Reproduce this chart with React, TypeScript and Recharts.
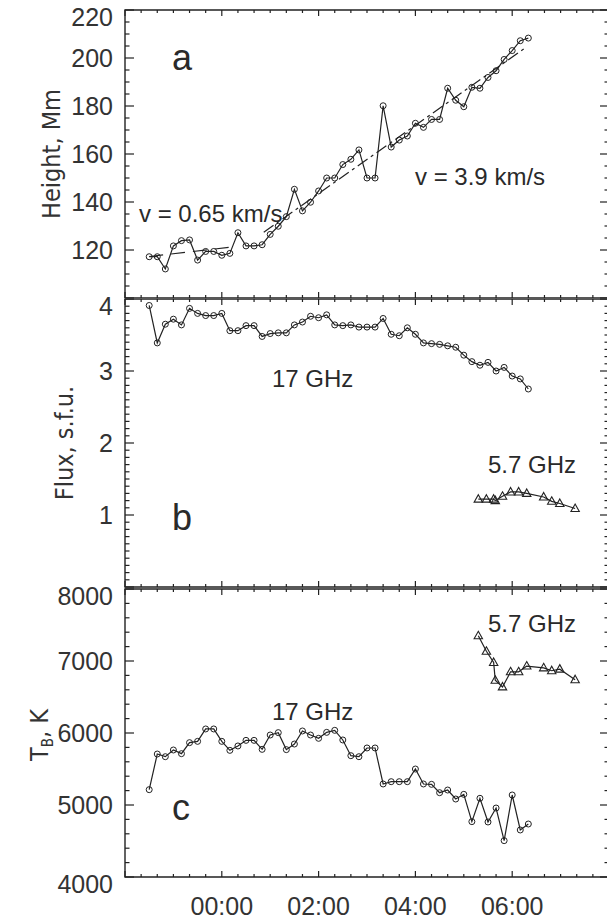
import React from 'react'
import { LineChart, Line, XAxis, YAxis, ReferenceArea } from 'recharts'

// time in minutes from 00:00 UT
const times17 = [
  -90, -80, -70, -60, -50, -40, -30, -20, -10, 0, 10, 20, 30, 40, 50, 60, 70, 80, 90, 100, 110, 120, 130, 140,
  150, 160, 170, 180, 190, 200, 210, 220, 230, 240, 250, 260, 270, 280, 290, 300, 310, 320, 330, 340, 350, 360, 370, 380,
]
const heightMm = [
  117.2, 117.2, 112.1, 121.7, 123.9, 124.2, 115.8, 119.4, 119.4, 117.8, 118.6, 127.2, 121.7, 121.7, 122.2, 126.5,
  129.9, 133.9, 145.3, 136.3, 139.9, 144.6, 150, 150, 155.6, 157.8, 161.7, 150, 150, 180.1, 162.9, 165.8, 167.5,
  172.8, 171.1, 174.4, 174.4, 187.4, 182.4, 179.7, 187.8, 187.4, 191.9, 194.7, 199.4, 203.1, 207.2, 208.3,
]
const flux17 = [
  3.91, 3.39, 3.65, 3.72, 3.64, 3.87, 3.8, 3.77, 3.77, 3.8, 3.56, 3.56, 3.63, 3.63, 3.48, 3.52, 3.53, 3.53, 3.64,
  3.68, 3.76, 3.74, 3.78, 3.64, 3.63, 3.64, 3.61, 3.61, 3.61, 3.73, 3.51, 3.49, 3.6, 3.51, 3.39, 3.38, 3.37, 3.35,
  3.33, 3.22, 3.13, 3.08, 3.12, 3.0, 3.05, 2.93, 2.89, 2.75,
]
const tb17 = [
  5213, 5708, 5671, 5764, 5713, 5866, 5884, 6056, 6056, 5884, 5759, 5820, 5898, 5898, 5773, 5972, 6005, 5769, 5847,
  6028, 5972, 5926, 6009, 6037, 5903, 5685, 5671, 5792, 5792, 5292, 5324, 5324, 5324, 5500, 5292, 5287, 5171, 5208,
  5083, 5148, 4769, 5093, 4764, 4958, 4505, 5139, 4653, 4736,
]

const times57 = [318, 328, 337, 339, 348, 358, 368, 378, 399, 409, 419, 438]
const flux57 = [1.22, 1.22, 1.22, 1.2, 1.26, 1.32, 1.32, 1.3, 1.25, 1.19, 1.16, 1.09]
const tb57 = [7350, 7135, 6980, 6732, 6640, 6850, 6850, 6930, 6905, 6865, 6887, 6740]

// linear fits to the height curve
const fitSlowTimes = [-90, 14]
const fitSlowHeight = [117.3, 121.3]
const fitFastTimes = [52, 377]
const fitFastHeight = [127.4, 204.4]

const timeMajor = [0, 120, 240, 360]
const timeLabels = ['00:00', '02:00', '04:00', '06:00']

const ink = '#222'
const font = "'Liberation Sans', Arial, sans-serif"
const narrow = "'Liberation Sans Narrow', 'DejaVu Sans Condensed', sans-serif"

const W = 612
const LEFT = 125
const PLOT_H = 288
const PLOT_W = 484
const X_DOMAIN: [number, number] = [-120, 480]

const zip = (xs: number[], ys: number[]) => xs.map((t, i) => ({ t, v: ys[i] }))

const steps = (from: number, to: number, step: number) => {
  const out: number[] = []
  for (let v = from; v <= to + 1e-9; v += step) out.push(Math.round(v * 1000) / 1000)
  return out
}
const xTicks = steps(-120, 480, 20)

const makeXTick = (withLabels: boolean) => (props: any) => {
  const { x, y, payload } = props
  const v = payload.value
  const major = v % 120 === 0
  const len = major ? 6 : 3
  const i = timeMajor.indexOf(v)
  return (
    <g>
      <line x1={x} y1={y} x2={x} y2={y - len} stroke={ink} strokeWidth={1.2} />
      <line x1={x} y1={y - PLOT_H} x2={x} y2={y - PLOT_H + len} stroke={ink} strokeWidth={1.2} />
      {withLabels && i >= 0 && (
        <text x={x} y={y + 38} textAnchor="middle" fontFamily={font} fontSize={25} fill="#333">
          {timeLabels[i]}
        </text>
      )}
    </g>
  )
}

const makeYTick = (majorStep: number, labels: number[], domain: [number, number]) => (props: any) => {
  const { x, y, payload } = props
  const v = payload.value
  const r = v / majorStep
  const major = Math.abs(r - Math.round(r)) < 1e-6
  const len = major ? 9 : 4.5
  const shown = major && labels.some((l) => Math.abs(l - v) < 1e-6)
  // labels sitting on the panel edges are nudged down, as in the original
  const atEdge = Math.abs(v - domain[1]) < 1e-6 || Math.abs(v - domain[0]) < 1e-6
  return (
    <g>
      <line x1={x} y1={y} x2={x + len} y2={y} stroke={ink} strokeWidth={1.2} />
      <line x1={x + PLOT_W} y1={y} x2={x + PLOT_W - len} y2={y} stroke={ink} strokeWidth={1.2} />
      {shown && (
        <text
          x={x - 12}
          y={y + (atEdge ? 7 : 0)}
          dy="0.36em"
          textAnchor="end"
          fontFamily={font}
          fontSize={25}
          fill="#333"
        >
          {v}
        </text>
      )}
    </g>
  )
}

const Triangle = (props: any) => {
  const { cx, cy, index } = props
  if (cx == null || cy == null) return <g key={index} />
  return (
    <path
      key={index}
      d={`M${cx},${cy - 4.5} L${cx + 4.2},${cy + 3} L${cx - 4.2},${cy + 3} Z`}
      fill="none"
      stroke={ink}
      strokeWidth={1.1}
    />
  )
}

const circleDot = { r: 3, fill: 'none', stroke: ink, strokeWidth: 1 }

type PanelProps = {
  top: number
  height: number
  marginTop: number
  yDomain: [number, number]
  yTicks: number[]
  yMajor: number
  yLabels: number[]
  xLabels?: boolean
  children: React.ReactNode
}

// axes are 1px wide/high (0 would hide them), margins compensate
const Panel = ({ top, height, marginTop, yDomain, yTicks, yMajor, yLabels, xLabels = false, children }: PanelProps) => (
  <div style={{ position: 'absolute', left: 0, top }}>
    <LineChart
      width={W}
      height={height}
      margin={{ top: marginTop, right: W - LEFT - PLOT_W, bottom: height - marginTop - PLOT_H - 1, left: LEFT - 1 }}
    >
      <XAxis
        xAxisId="x"
        type="number"
        dataKey="t"
        domain={X_DOMAIN}
        allowDataOverflow
        ticks={xTicks}
        interval={0}
        tickSize={0}
        tickMargin={0}
        tickLine={false}
        axisLine={false}
        height={1}
        tick={makeXTick(xLabels)}
      />
      <YAxis
        yAxisId="y"
        type="number"
        domain={yDomain}
        allowDataOverflow
        ticks={yTicks}
        interval={0}
        tickSize={0}
        tickMargin={0}
        tickLine={false}
        axisLine={false}
        width={1}
        tick={makeYTick(yMajor, yLabels, yDomain)}
      />
      <ReferenceArea
        xAxisId="x"
        yAxisId="y"
        x1={X_DOMAIN[0]}
        x2={X_DOMAIN[1]}
        y1={yDomain[0]}
        y2={yDomain[1]}
        fill="none"
        stroke={ink}
        strokeWidth={1.4}
      />
      {children}
    </LineChart>
  </div>
)

const seriesProps = { xAxisId: 'x', yAxisId: 'y', dataKey: 'v', stroke: ink, strokeWidth: 1.2, isAnimationActive: false } as const

export default function App() {
  return (
    <div
      style={{ position: 'absolute', left: 0, top: 0, width: 607, height: 921, overflow: 'hidden', background: '#fff' }}
    >
      <Panel top={0} height={298} marginTop={10} yDomain={[100, 220]} yTicks={steps(100, 220, 5)} yMajor={20} yLabels={[120, 140, 160, 180, 200, 220]}>
        <Line {...seriesProps} data={zip(fitSlowTimes, fitSlowHeight)} type="linear" dot={false} strokeDasharray="14 8" />
        <Line {...seriesProps} data={zip(fitFastTimes, fitFastHeight)} type="linear" dot={false} strokeDasharray="12 4 3 4" />
        <Line {...seriesProps} data={zip(times17, heightMm)} type="linear" dot={circleDot} />
      </Panel>
      <Panel top={286} height={302} marginTop={13} yDomain={[0, 4]} yTicks={steps(0, 4, 0.1)} yMajor={1} yLabels={[1, 2, 3, 4]}>
        <Line {...seriesProps} data={zip(times17, flux17)} type="linear" dot={circleDot} />
        <Line {...seriesProps} data={zip(times57, flux57)} type="linear" dot={Triangle} />
      </Panel>
      <Panel top={576} height={345} marginTop={13} yDomain={[4000, 8000]} yTicks={steps(4000, 8000, 200)} yMajor={1000} yLabels={[4000, 5000, 6000, 7000, 8000]} xLabels>
        <Line {...seriesProps} data={zip(times17, tb17)} type="linear" dot={circleDot} />
        <Line {...seriesProps} data={zip(times57, tb57)} type="linear" dot={Triangle} />
      </Panel>

      <svg width={607} height={921} style={{ position: 'absolute', left: 0, top: 0, pointerEvents: 'none' }}>
        <g fontFamily={font} fill="#2a2a2a">
          <text x={172} y={70} fontSize={36}>a</text>
          <text x={172} y={530} fontSize={36}>b</text>
          <text x={172} y={820} fontSize={36}>c</text>
          <text x={139} y={222} fontSize={24}>v = 0.65 km/s</text>
          <text x={415} y={185} fontSize={24}>v = 3.9 km/s</text>
          <text x={272} y={387} fontSize={24}>17 GHz</text>
          <text x={488} y={473} fontSize={24}>5.7 GHz</text>
          <text x={488} y={632} fontSize={24}>5.7 GHz</text>
          <text x={272} y={720} fontSize={24}>17 GHz</text>
        </g>
        <g fontFamily={narrow} fill="#333" fontSize={25} textAnchor="middle">
          <text x={60} y={154} transform="rotate(-90 60 154)">Height, Mm</text>
          <text x={73} y={443} transform="rotate(-90 73 443)">Flux, s.f.u.</text>
          <text x={48} y={735} transform="rotate(-90 48 735)">
            T<tspan fontSize={15} dy={5}>B</tspan>
            <tspan dy={-5}>, K</tspan>
          </text>
        </g>
      </svg>
    </div>
  )
}
